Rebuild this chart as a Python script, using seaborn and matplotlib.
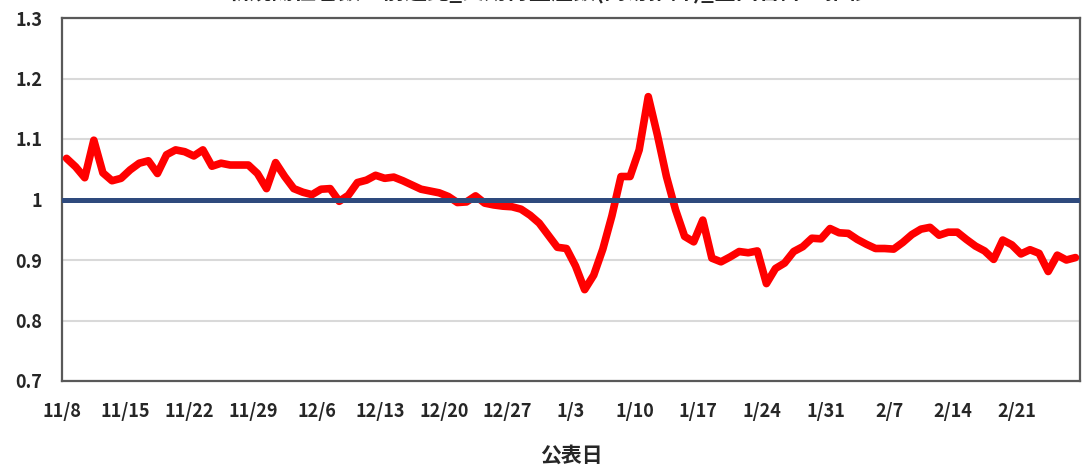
import matplotlib
matplotlib.use("Agg")
import matplotlib.pyplot as plt
import pandas as pd
import seaborn as sns

# daily values from 11/8 to 2/27
ratio = [
    1.068, 1.054, 1.036, 1.098, 1.044, 1.031, 1.035, 1.049, 1.060, 1.064,
    1.043, 1.074, 1.082, 1.079, 1.072, 1.082, 1.055, 1.060, 1.057, 1.057,
    1.057, 1.043, 1.018, 1.061, 1.038, 1.018, 1.012, 1.008, 1.017, 1.018,
    0.997, 1.007, 1.028, 1.032, 1.040, 1.035, 1.037, 1.031, 1.024, 1.017,
    1.014, 1.011, 1.005, 0.995, 0.996, 1.006, 0.994, 0.991, 0.989, 0.988,
    0.984, 0.974, 0.961, 0.941, 0.921, 0.919, 0.890, 0.851, 0.875, 0.918,
    0.973, 1.038, 1.038, 1.082, 1.170, 1.107, 1.038, 0.983, 0.939, 0.930,
    0.966, 0.903, 0.897, 0.905, 0.914, 0.912, 0.915, 0.861, 0.886, 0.895,
    0.914, 0.922, 0.936, 0.935, 0.952, 0.945, 0.944, 0.934, 0.926, 0.919,
    0.919, 0.918, 0.929, 0.942, 0.951, 0.954, 0.941, 0.946, 0.946, 0.934,
    0.923, 0.915, 0.901, 0.933, 0.925, 0.910, 0.917, 0.911, 0.881, 0.908,
    0.900, 0.904,
]
week_labels = ["11/8", "11/15", "11/22", "11/29", "12/6", "12/13", "12/20", "12/27",
               "1/3", "1/10", "1/17", "1/24", "1/31", "2/7", "2/14", "2/21"]
y_ticks = [0.7, 0.8, 0.9, 1.0, 1.1, 1.2, 1.3]
y_labels = ["0.7", "0.8", "0.9", "1", "1.1", "1.2", "1.3"]
baseline = 1.0

df = pd.DataFrame({"day": range(len(ratio)), "ratio": ratio})

sns.set_style("white")
plt.rcParams["font.family"] = ["Noto Sans CJK JP", "DejaVu Sans"]

fig = plt.figure(figsize=(10.82, 4.69), dpi=100)
ax = fig.add_axes([62 / 1082, 1 - 381 / 469, 1018 / 1082, 363 / 469])

sns.lineplot(data=df, x="day", y="ratio", color="#FF0000", linewidth=5.5, ax=ax, zorder=3)
ax.axhline(baseline, color="#2E4A7D", linewidth=3.6, zorder=4)

ax.set_xlim(-0.5, len(ratio) - 0.5)
ax.set_ylim(0.7, 1.3)
ax.set_yticks(y_ticks)
ax.set_yticklabels(y_labels, fontsize=13, fontweight="bold")
ax.set_xticks([7 * i - 0.5 for i in range(len(week_labels))])
ax.set_xticklabels(week_labels, fontsize=13, fontweight="bold")
ax.tick_params(axis="x", direction="out", length=6, width=1.2, color="#595959", pad=9)
ax.tick_params(axis="y", length=0, pad=14)

ax.yaxis.grid(True, color="#D9D9D9", linewidth=1.5, zorder=0)
ax.set_axisbelow(True)
for s in ax.spines.values():
    s.set_color("#595959")
    s.set_linewidth(1.6)

ax.set_xlabel("公表日", fontsize=15, fontweight="bold", labelpad=17)
ax.set_ylabel("")

# title sits mostly above the visible area, as in the source image
fig.text(0.507, 0.993, "新規陽性者数の前週比_実効再生産数(簡易推計)_全国合計の推移",
         ha="center", va="bottom", fontsize=16, fontweight="bold")

fig.savefig("out.png", dpi=100)
